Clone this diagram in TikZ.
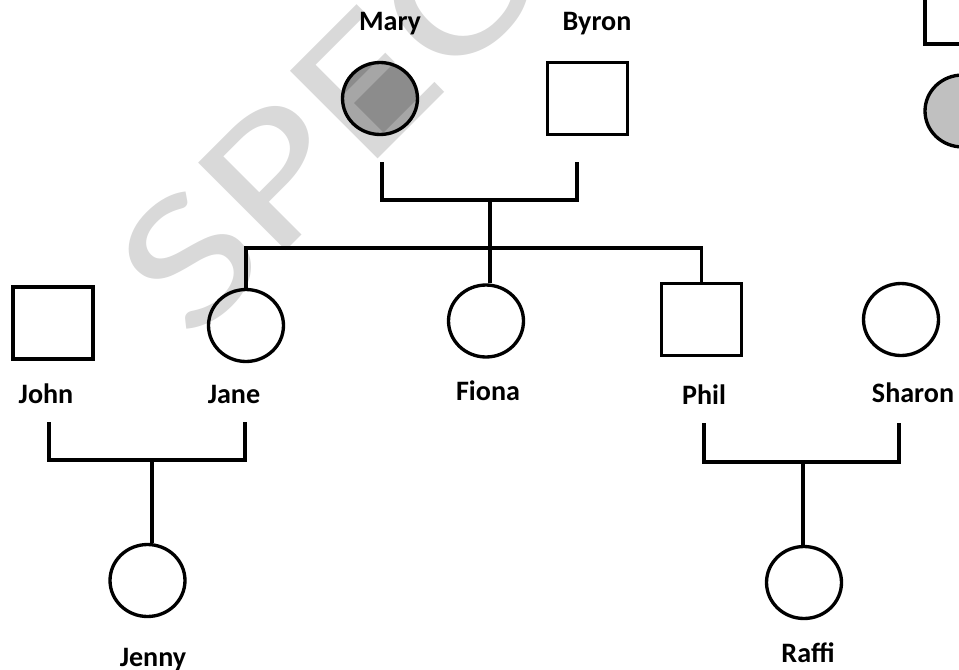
\documentclass[tikz,border=0pt]{standalone}
\usepackage{fontspec}
\setmainfont{Carlito}
\usetikzlibrary{shapes.geometric}
\definecolor{markgray}{RGB}{187,187,187}
\definecolor{maryfill}{RGB}{140,140,140}
\definecolor{lightfill}{RGB}{192,192,192}
\begin{document}
\begin{tikzpicture}[x=0.02cm,y=-0.02cm,
    female/.style={draw,ellipse,line width=1.9pt,inner sep=0pt,minimum width=1.5cm,minimum height=1.44cm},
    male/.style={draw,rectangle,line width=1.9pt,inner sep=0pt,minimum width=1.6cm,minimum height=1.44cm},
    who/.style={anchor=base,font=\fontsize{16}{19}\selectfont\bfseries},
    link/.style={line width=1.9pt}]
            \useasboundingbox (0,0) rectangle (959,669);
            \clip (0,0) rectangle (959,669);
            % shading of Mary lies under the watermark
            \node[female,draw=none,fill=maryfill] (maryshade) at (380,98.5) {};
            % watermark
            \node[rotate=45,xscale=1.3,anchor=base west,inner sep=0pt,text=markgray,text opacity=0.56,font=\fontsize{110}{120}\selectfont] (stamp) at (192,345) {SPECIMEN};
            % grandparents
            \node[female] (mary) at (maryshade) {};
            \node[male] (byron) at (587.5,98.5) {};
            \node[who] (maryname) at (390,31) {Mary};
            \node[who] (byronname) at (597,31) {Byron};
            % cut off at the right edge
            \node[male] (other) at (965,8) {};
            \node[female,fill=lightfill] (otherwife) at (962.5,111) {};
            % children
            \node[male] (john) at (53,323) {};
            \node[female] (jane) at (246,325.5) {};
            \node[female] (fiona) at (486,321) {};
            \node[male] (phil) at (701.5,319.5) {};
            \node[female] (sharon) at (901,319.5) {};
            \node[who] (johnname) at (46,403) {John};
            \node[who] (janename) at (234,403) {Jane};
            \node[who] (fionaname) at (488,400) {Fiona};
            \node[who] (philname) at (704,404) {Phil};
            \node[who] (sharonname) at (913,402) {Sharon};
            % grandchildren
            \node[female] (jenny) at (147.5,580.5) {};
            \node[female] (raffi) at (804,582.5) {};
            \node[who] (jennyname) at (153,666) {Jenny};
            \node[who] (raffiname) at (808,662) {Raffi};
            % marriage lines
            \coordinate (mbL) at (382,162);
            \coordinate (mbR) at (577,162);
            \coordinate (mbM) at (490,200);
            \coordinate (sibs) at (490,248);
            \draw[link] (mbL) |- (mbM) -| (mbR);
            \draw[link] (mbM) -- (mbM |- fiona.north);
            \draw[link] (jane.north) |- (sibs) -| (phil.north);
            \coordinate (jjL) at (49,422);
            \coordinate (jjR) at (245,422);
            \coordinate (jjM) at (152,460);
            \draw[link] (jjL) |- (jjM) -| (jjR);
            \draw[link] (jjM) -- (jjM |- jenny.north);
            \coordinate (psL) at (704,423);
            \coordinate (psR) at (899,423);
            \coordinate (psM) at (803,462);
            \draw[link] (psL) |- (psM) -| (psR);
            \draw[link] (psM) -- (psM |- raffi.north);
        \end{tikzpicture}
\end{document}
